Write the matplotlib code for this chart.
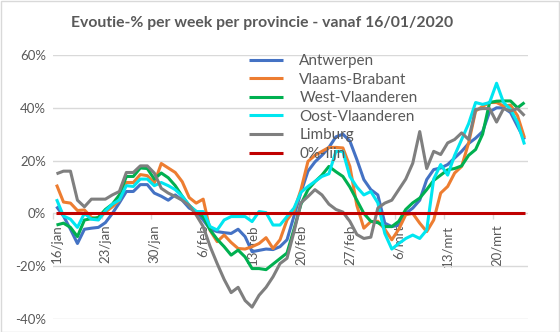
import numpy as np
import matplotlib
matplotlib.use("Agg")
import matplotlib.pyplot as plt
from matplotlib.patches import Rectangle

plt.rcParams['font.family'] = ['Lato', 'DejaVu Sans']

title = "Evoutie-% per week per provincie - vanaf 16/01/2020"
tick_labels = ["16/jan", "23/jan", "30/jan", "6/feb", "13/feb", "20/feb",
               "27/feb", "6/mrt", "13/mrt", "20/mrt"]

antwerpen = [2.6, -1, -6, -11.4, -6, -5.6, -5.3, -3.5, 0, 4,
             8.3, 8.3, 10.9, 10.9, 7.7, 6.5, 5, 7, 5, 2,
             0.7, -2.5, -6, -6.9, -7.3, -7.6, -6, -8.8, -14.5, -14,
             -13.5, -13.7, -12.6, -10, -1, 8, 16, 19.5, 22, 25,
             29, 30, 27.4, 20.4, 12.8, 9, 7, -3.7, -5, -4.5,
             0, 2, 5, 12.8, 16.6, 17.2, 18.5, 21, 23.5, 26.5,
             28.5, 31, 38.5, 40, 40, 38.2, 33, 28]
vlaams_brabant = [10.9, 4.3, 3.9, 1.1, 1.3, -1.5, -2.2, 0.5, 2.5, 5,
                  11.7, 11.7, 14.7, 14.3, 11.5, 18.9, 17.2, 15.5, 12, 6,
                  3.9, 5.4, -6.5, -10.7, -8.2, -11, -13.3, -13.5, -12.6, -11.4,
                  -9.2, -13.3, -10, -2.5, 1, 9, 19.7, 22, 23.5, 25,
                  25, 24.8, 17.8, 3, -5.6, -3.1, -3, -6, -10, -6,
                  -0.5, 0, -3.7, -6.9, -2.5, 7.7, 10.2, 15.3, 17.8, 26.7,
                  38.8, 40.5, 42, 42, 40.7, 41, 37, 28.6]
west_vlaanderen = [-4.4, -3.7, -5.3, -8.8, -2.5, -2, -1.5, 1.5, 3.5, 7,
                   14, 14, 17.2, 17, 13, 15.3, 13.5, 10.5, 6.5, 3,
                   0.7, -1.2, -6.3, -9.8, -12.6, -15.8, -13.9, -16.5, -20.9, -20.9,
                   -21.3, -19.2, -17.1, -15, -6, 3.5, 9, 12, 14.5, 17.8,
                   15.8, 14, 10, 5, 0, -3, -3.5, -5, -5, -3,
                   1.5, 4, 5.8, 9, 12.5, 14.5, 16.5, 17, 18, 22,
                   24.2, 30, 42, 42.5, 42.6, 42.6, 40, 42]
oost_vlaanderen = [5.4, -1, -2.2, -5.3, 0, -2.2, -2.5, 1, 3.5, 5.1,
                   10.5, 10.2, 13, 13, 10.5, 11.7, 10.5, 9, 6.5, 3,
                   0.7, 0.7, -5, -6.3, -2.5, -1.2, -1.2, -1.2, -3.1, 0.7,
                   0.3, -4.4, -4.4, -1.2, 2, 8, 10.2, 12.1, 14, 15,
                   23.5, 23.5, 14, 10, 7, 8.3, 4, -7.6, -13.5, -11.4,
                   -9.5, -8.2, -9.5, -6.3, 13, 18.5, 14.5, 22, 28, 34,
                   42, 41.3, 42, 49.3, 42, 39.4, 34.4, 26.1]
limburg = [15, 16, 16, 5, 2.5, 5.4, 5.4, 5.4, 7, 8.3,
           15.5, 15.5, 18, 18, 15.3, 9.5, 7.7, 6.4, 5, 3,
           -0.6, -5, -12.6, -19, -25, -30, -28, -33, -35.5, -31,
           -28, -24, -19, -17, -7, 4, 6.4, 9, 7, 3.5,
           1.5, 0.5, -3, -8, -9.5, -9, 2, 3.9, 5, 9,
           13, 19, 31, 17, 23.5, 22.3, 26.7, 28, 30.5, 28,
           39.4, 39.7, 39.7, 34.6, 39.7, 38.8, 39.7, 37]
nul_lijn = [0] * 68

series = [("Antwerpen", antwerpen, "#4472C4"),
          ("Vlaams-Brabant", vlaams_brabant, "#ED7D31"),
          ("West-Vlaanderen", west_vlaanderen, "#00B050"),
          ("Oost-Vlaanderen", oost_vlaanderen, "#00E6F0"),
          ("Limburg", limburg, "#7F7F7F"),
          ("0%-lijn", nul_lijn, "#C00000")]

W, H = 560, 332
fig = plt.figure(figsize=(W / 100, H / 100), dpi=100)
fig.patch.set_facecolor("white")
fig.patches.append(Rectangle((0.5 / W, 0.5 / H), 1 - 1.5 / W, 1 - 1.5 / H,
                             transform=fig.transFigure, fill=False,
                             edgecolor="#D9D9D9", linewidth=1))

ax = fig.add_axes([53 / W, 13 / H, 475 / W, 264 / H])
x = np.arange(len(antwerpen))
for name, vals, col in series:
    ax.plot(x, vals, color=col, linewidth=2.2, label=name,
            solid_joinstyle="round", solid_capstyle="butt")

ax.set_xlim(-0.5, len(x) - 0.5)
ax.set_ylim(-40, 60)
ax.set_yticks(np.arange(-40, 61, 20))
ax.set_yticklabels([f"{v}%" for v in range(-40, 61, 20)])
ax.yaxis.grid(True, color="#D9D9D9", linewidth=1)
ax.set_axisbelow(True)
for s in ax.spines.values():
    s.set_visible(False)
ax.tick_params(axis="y", length=0, labelsize=9.5, labelcolor="#595959", pad=5)

ax.spines["bottom"].set_position(("data", 0))
ax.set_xticks(np.arange(0, len(x), 7))
ax.set_xticklabels(tick_labels, rotation=90)
ax.tick_params(axis="x", length=0, labelsize=9.5, labelcolor="#595959", pad=8)
ax.set_xticks(np.arange(0, len(x), 7) - 0.5, minor=True)
ax.tick_params(axis="x", which="minor", length=4, color="#D9D9D9", width=1,
               direction="out")
for lab in ax.get_xticklabels():
    lab.set_verticalalignment("top")

fig.text(262 / W, 1 - 23 / H, title, ha="center", va="center", fontsize=11.3,
         fontweight="bold", color="#595959")

leg = ax.legend(loc="upper left", bbox_to_anchor=(249 / W, 1 - 54 / H),
                bbox_transform=fig.transFigure, frameon=False, fontsize=11,
                handlelength=2.2, handletextpad=1.1, labelspacing=0.3,
                borderpad=0, borderaxespad=0)
for t in leg.get_texts():
    t.set_color("#595959")

fig.savefig("out.png", dpi=100)
